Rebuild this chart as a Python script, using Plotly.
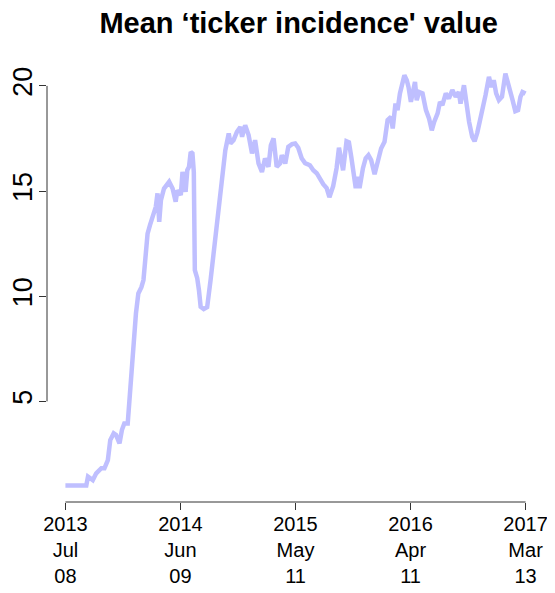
"""Mean 'ticker incidence' value over time, drawn in an R base-graphics look."""

import pandas as pd
import plotly.graph_objects as go

FONT = "Liberation Sans, Arial, Helvetica, sans-serif"
LINE_COLOR = "#BFBFFF"
AXIS_COLOR = "#333333"

START_DATE = "2013-07-08"

# days since START_DATE
DAY_OFFSETS = [
    0, 61, 66, 80, 90, 105, 114, 124, 131, 141, 148, 158, 165, 172, 182,
    187, 192, 197, 201, 206, 213, 222, 228, 231, 235, 240, 247, 255, 264,
    269, 274, 279, 288, 303, 313, 322, 327, 337, 342, 351, 356, 361, 366,
    371, 375, 378, 385, 390, 395, 404, 414, 424, 433, 443, 448, 458, 467,
    477, 482, 491, 501, 511, 516, 525, 535, 545, 554, 564, 574, 583, 593,
    600, 608, 617, 627, 632, 642, 651, 662, 671, 680, 690, 700, 714, 724,
    734, 743, 753, 763, 771, 782, 792, 799, 806, 811, 821, 828, 835, 842,
    848, 854, 859, 869, 877, 885, 893, 903, 912, 922, 932, 937, 941, 951,
    956, 964, 970, 977, 985, 990, 997, 1002, 1009, 1014, 1021, 1026, 1033,
    1043, 1053, 1062, 1070, 1077, 1087, 1094, 1101, 1111, 1120, 1130, 1140,
    1149, 1154, 1164, 1171, 1179, 1188, 1195, 1203, 1212, 1219, 1227, 1237,
    1244, 1251, 1258, 1266, 1275, 1285, 1293, 1300, 1306, 1314, 1322, 1329,
    1335, 1344,
]

MEAN_VALUE = [
    1.0, 1.0, 1.42, 1.26, 1.58, 1.82, 1.82, 2.21, 3.16, 3.48, 3.40, 3.00,
    3.64, 3.95, 3.95, 5.06, 6.17, 7.28, 8.55, 9.18, 10.13, 10.43, 10.77,
    11.40, 12.19, 12.98, 13.38, 13.77, 14.25, 14.89, 13.54, 14.57, 15.12,
    15.44, 15.12, 14.49, 15.04, 14.81, 15.91, 14.96, 15.99, 16.15, 16.86,
    16.79, 15.91, 11.24, 10.86, 10.29, 9.50, 9.39, 9.48, 10.77, 12.10,
    13.57, 14.57, 15.66, 16.94, 17.74, 17.26, 17.42, 17.81, 18.05, 17.58,
    18.13, 17.66, 16.79, 17.42, 16.31, 15.91, 16.55, 16.15, 17.18, 17.50,
    16.15, 16.31, 16.71, 16.31, 17.10, 17.23, 17.26, 17.06, 16.56, 16.33,
    16.23, 15.99, 15.85, 15.57, 15.33, 15.14, 14.71, 15.23, 16.09, 17.06,
    16.23, 15.99, 17.37, 17.32, 16.61, 15.85, 15.14, 15.67, 15.14, 16.09,
    16.56, 16.71, 16.47, 15.80, 16.47, 17.02, 17.34, 17.89, 18.37, 18.53,
    17.98, 19.16, 18.85, 19.64, 20.11, 20.51, 20.27, 19.95, 19.24, 19.64,
    20.19, 19.32, 19.71, 19.64, 18.85, 18.45, 17.89, 18.29, 18.69, 19.24,
    19.08, 19.64, 19.40, 19.80, 19.48, 19.71, 19.16, 20.03, 19.00, 18.29,
    17.58, 17.37, 17.78, 18.37, 19.00, 19.56, 20.43, 19.95, 20.27, 19.64,
    19.32, 19.48, 20.59, 20.11, 19.88, 19.32, 18.80, 18.85, 19.48, 19.71,
    19.64,
]

X_TICK_DATES = ["2013-07-08", "2014-06-09", "2015-05-11", "2016-04-11", "2017-03-13"]
X_TICK_TEXT = ["2013<br>Jul<br>08", "2014<br>Jun<br>09", "2015<br>May<br>11",
               "2016<br>Apr<br>11", "2017<br>Mar<br>13"]
Y_TICKS = [5, 10, 15, 20]

TITLE = "Mean \u2018ticker incidence' value"

# the page body adds an 8px margin, so the figure is 8px smaller than the window
WIDTH, HEIGHT = 547, 585


dates = pd.Timestamp(START_DATE) + pd.to_timedelta(DAY_OFFSETS, unit="D")

# R-style 4% padding around the data range
x_min, x_max = dates.min(), dates.max()
x_pad = (x_max - x_min) * 0.04
y_min, y_max = min(MEAN_VALUE), max(MEAN_VALUE)
y_pad = (y_max - y_min) * 0.04

fig = go.Figure()
fig.add_trace(
    go.Scatter(
        x=dates,
        y=MEAN_VALUE,
        mode="lines",
        line=dict(color=LINE_COLOR, width=4.5),
        hoverinfo="skip",
        showlegend=False,
    )
)

# axis lines only span first to last tick, like R's axis()
fig.add_shape(type="line", xref="x", yref="paper",
              x0=X_TICK_DATES[0], x1=X_TICK_DATES[-1], y0=0, y1=0,
              line=dict(color=AXIS_COLOR, width=1))
fig.add_shape(type="line", xref="paper", yref="y",
              x0=0, x1=0, y0=Y_TICKS[0], y1=Y_TICKS[-1],
              line=dict(color=AXIS_COLOR, width=1))

fig.update_layout(
    width=WIDTH,
    height=HEIGHT,
    paper_bgcolor="#ffffff",
    plot_bgcolor="#ffffff",
    margin=dict(l=39, r=11, t=49, b=91),
    font=dict(family=FONT, size=20, color="#000000"),
    title=dict(
        text="<b>" + TITLE + "</b>",
        font=dict(size=29, family=FONT, color="#000000"),
        x=290.7 / WIDTH,
        xanchor="center",
        y=1 - 15 / HEIGHT,
        yanchor="middle",
    ),
)
fig.update_xaxes(
    range=[x_min - x_pad, x_max + x_pad],
    tickvals=X_TICK_DATES,
    ticktext=X_TICK_TEXT,
    ticks="outside",
    ticklen=7,
    tickcolor=AXIS_COLOR,
    ticklabelstandoff=-3,
    showgrid=False,
    zeroline=False,
    showline=False,
    automargin=False,
    tickfont=dict(size=20),
)
fig.update_yaxes(
    range=[y_min - y_pad, y_max + y_pad],
    tickvals=Y_TICKS,
    ticks="outside",
    ticklen=7,
    tickcolor=AXIS_COLOR,
    tickangle=-90,
    ticklabelstandoff=-4,
    showgrid=False,
    zeroline=False,
    showline=False,
    automargin=False,
    tickfont=dict(size=27),
)

fig.write_html("out.html")
